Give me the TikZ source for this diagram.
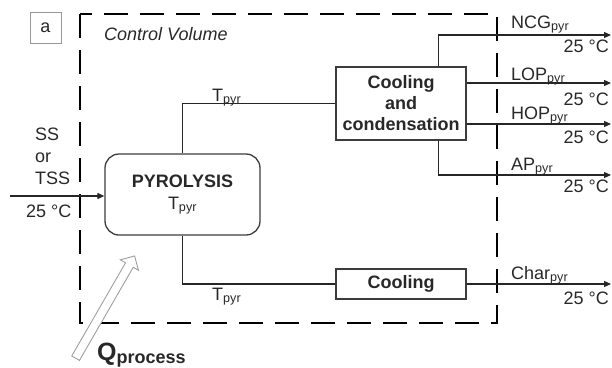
\documentclass[tikz,border=0pt]{standalone}
\usepackage{fontspec}
\setmainfont{Liberation Sans}
\usetikzlibrary{arrows.meta, positioning, shapes.arrows}
\definecolor{inkgray}{RGB}{40,40,40}
\definecolor{boxgray}{RGB}{60,60,60}
\newcommand{\pyr}{\textsubscript{pyr}}

\begin{document}
\begin{tikzpicture}[
    x=1pt, y=-1pt,
    every node/.style={text=inkgray, font=\fontsize{18}{22}\selectfont},
    proc/.style   ={rectangle, draw=boxgray, line width=1.3pt, fill=white,
                    align=center, inner sep=0pt, minimum width=130pt,
                    font=\fontsize{18}{21}\selectfont\bfseries},
    reactor/.style={rectangle, rounded corners=14pt, draw=boxgray,
                    line width=1.3pt, fill=white, align=center, inner sep=0pt,
                    minimum width=155pt, minimum height=81pt},
    lbl/.style    ={anchor=base west, inner sep=0pt},
    tlbl/.style   ={anchor=base east, inner sep=0pt},
    arrow/.style  ={-{Triangle[length=7pt,width=6pt]}, line width=1.2pt, draw=black!85},
    link/.style   ={line width=1.2pt, draw=black!85},
    cvline/.style ={draw=black, line width=2.8pt, dash pattern=on 24pt off 12pt},
    heat/.style   ={single arrow, draw=gray!75, fill=white, line width=0.9pt,
                    inner sep=4pt, single arrow head extend=6pt,
                    minimum height=118pt, rotate=60}
]
\useasboundingbox (0,0) rectangle (612,367);

% ============================================================
% CONTROL VOLUME
% ============================================================

\draw[cvline] (80,14) rectangle (497,323);
\node[draw=gray!80, line width=0.8pt, minimum size=31pt, inner sep=0pt] (tag) at (45.5,27.5) {a};
\node[lbl, font=\fontsize{18}{22}\selectfont\itshape] (cvname) at (104,40) {Control Volume};

% ============================================================
% UNITS
% ============================================================

\node[reactor] (pyro) at (182.5,194.5) {\textbf{PYROLYSIS}\\T\pyr};
\node[proc, minimum height=73pt] (cc)   at (401,103.5) {Cooling\\and\\condensation};
\node[proc, minimum height=30pt] (cool) at (401,284)   {Cooling};

% -- flow ends (right edge) --
\coordinate (ncgend)  at (611,35);
\coordinate (lopend)  at (611,83);
\coordinate (hopend)  at (611,124);
\coordinate (apend)   at (611,175);
\coordinate (charend) at (611,284);
\coordinate (feedin)  at (10,196);

% ============================================================
% FLOWS
% ============================================================

% feed -> pyrolysis
\draw[arrow] (feedin) -- (feedin -| pyro.west);

% pyrolysis -> cooling units
\draw[link] (pyro.north) |- (cc.west);
\draw[link] (pyro.south) |- (cool.west);

% products
\draw[arrow] ([xshift=-28pt]cc.north east) |- (ncgend);
\draw[arrow] (cc.east |- lopend) -- (lopend);
\draw[arrow] (cc.east |- hopend) -- (hopend);
\draw[arrow] ([xshift=-28pt]cc.south east) |- (apend);
\draw[arrow] (cool.east) -- (charend);

% heat input
\node[heat] (qin) at (104,309) {};

% ============================================================
% LABELS
% ============================================================

\node[anchor=north west, inner sep=0pt, align=left] (feedname) at (35,128) {SS\\or\\TSS};
\node[lbl] (feedt) at (26,217) {25 °C};

\node[lbl] (tup)   at (212,101) {T\pyr};
\node[lbl] (tdown) at (212,300) {T\pyr};

\node[lbl] (ncgl)  at (511,28)  {NCG\pyr};
\node[tlbl] (ncgt) at (609,52)  {25 °C};
\node[lbl] (lopl)  at (511,80)  {LOP\pyr};
\node[tlbl] (lopt) at (609,105) {25 °C};
\node[lbl] (hopl)  at (511,119) {HOP\pyr};
\node[tlbl] (hopt) at (609,143) {25 °C};
\node[lbl] (apl)   at (511,170) {AP\pyr};
\node[tlbl] (apt)  at (609,192) {25 °C};
\node[lbl] (charl) at (511,279) {Char\pyr};
\node[tlbl] (chart) at (609,304) {25 °C};

\node[lbl, font=\bfseries] (qname) at (97,360)
    {{\fontsize{25}{25}\selectfont Q}\raisebox{-3pt}{\fontsize{18}{18}\selectfont process}};

\end{tikzpicture}
\end{document}
